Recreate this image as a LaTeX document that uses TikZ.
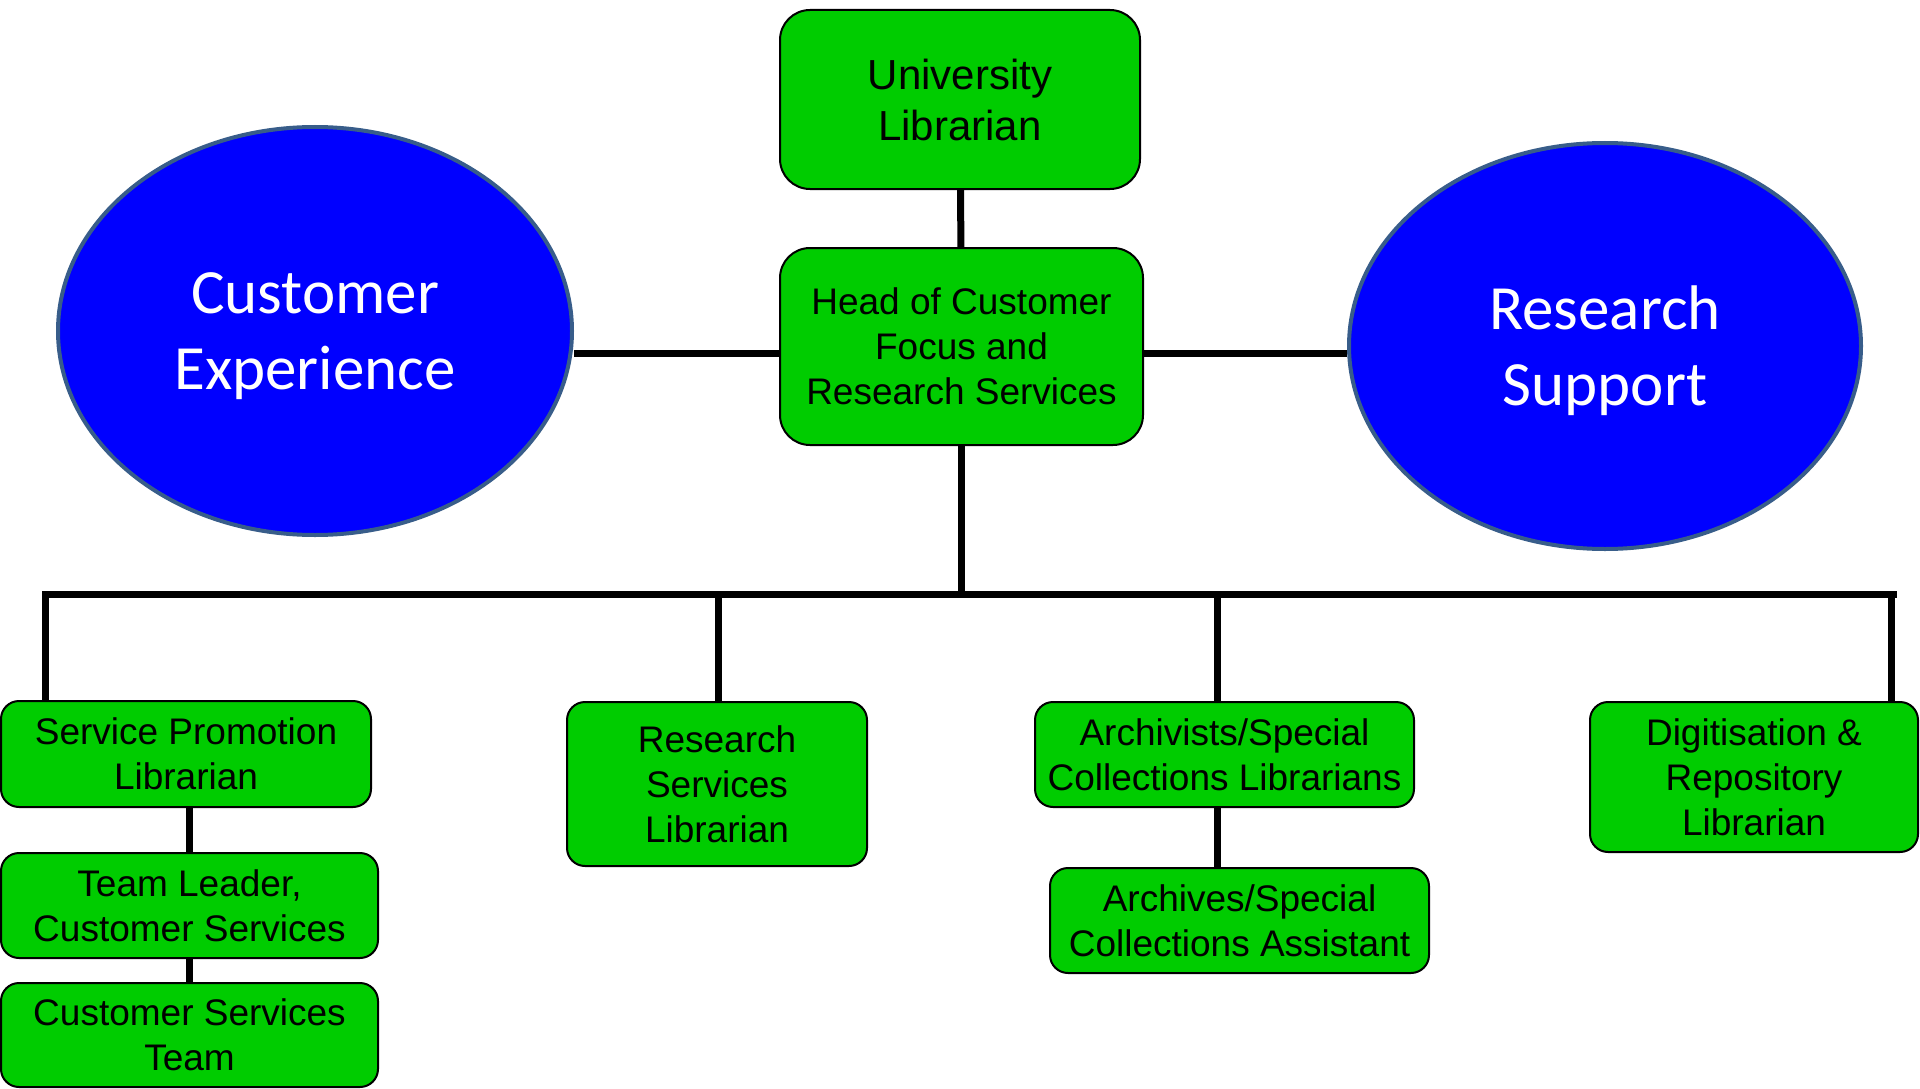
\documentclass[tikz,border=0pt]{standalone}
\usepackage{fontspec}
\setmainfont{Liberation Sans}
\newfontfamily\ovalfont{Carlito}
\usetikzlibrary{backgrounds,shapes.geometric}
\definecolor{boxgreen}{RGB}{0,204,0}
\definecolor{ovalblue}{RGB}{0,0,255}
\definecolor{ovalrim}{RGB}{56,93,138}
\begin{document}
\begin{tikzpicture}[x=1pt,y=-1pt,
    post/.style={draw=black,line width=2pt,fill=boxgreen,rounded corners=18pt,
      inner sep=0pt,align=center,font=\fontsize{37}{45}\selectfont},
    bigpost/.style={post,rounded corners=30pt},
    oval/.style={ellipse,draw=ovalrim,line width=4pt,fill=ovalblue,text=white,
      inner sep=0pt,text depth=0pt,align=center,font=\ovalfont\fontsize{63}{76}\selectfont},
    link/.style={line width=7pt,line join=miter}]
  \useasboundingbox (0,0) rectangle (1920,1089);
  \node[bigpost,minimum width=360pt,minimum height=179pt,font=\fontsize{42}{51}\selectfont] (univ) at (960,99.5) {University\\Librarian};
  \node[bigpost,minimum width=363pt,minimum height=197pt] (head) at (961.5,346.5) {Head of Customer\\Focus and\\Research Services};
  \node[oval,minimum width=514pt,minimum height=408pt] (custexp) at (315,331) {Customer\\Experience};
  \node[oval,minimum width=512pt,minimum height=406pt] (ressup) at (1605,346) {Research\\Support};
  \node[post,minimum width=370pt,minimum height=106pt] (promo) at (186,754) {Service Promotion\\Librarian};
  \node[post,minimum width=377pt,minimum height=105pt] (leader) at (189.5,905.5) {Team Leader,\\Customer Services};
  \node[post,minimum width=377pt,minimum height=104pt] (csteam) at (189.5,1035) {Customer Services\\Team};
  \node[post,minimum width=300pt,minimum height=164pt] (resserv) at (717,784) {Research\\Services\\Librarian};
  \node[post,minimum width=379pt,minimum height=105pt] (archiv) at (1224.5,754.5) {Archivists/Special\\Collections Librarians};
  \node[post,minimum width=379pt,minimum height=105pt] (assist) at (1239.5,920.5) {Archives/Special\\Collections Assistant};
  \node[post,minimum width=328pt,minimum height=150pt] (digit) at (1754,777) {Digitisation \&\\Repository\\Librarian};
  \coordinate (bus1) at (45,594);
  \coordinate (bus2) at (718,594);
  \coordinate (bus3) at (1217,594);
  \coordinate (bus4) at (1891,594);
  \begin{scope}[on background layer]
    \draw[link] (univ) -- (head);
    \draw[link] ([yshift=-7pt]head.west) -- ([yshift=-7pt]head.west -| custexp.east);
    \draw[link] ([yshift=-7pt]head.east) -- ([yshift=-7pt]head.east -| ressup.west);
    \draw[link] (head.south) -- (head.south |- bus1);
    \draw[link] (bus1 |- promo.north) -- (bus1) -- ([xshift=6pt]bus4);
    \draw[link] (bus4) -- (bus4 |- digit.north);
    \draw[link] (bus2) -- (bus2 |- resserv.north);
    \draw[link] (bus3) -- (bus3 |- archiv.north);
    \draw[link] (archiv.south -| bus3) -- (assist.north -| bus3);
    \draw[link] (leader.north |- promo.south) -- (leader.north);
    \draw[link] (leader.south) -- (csteam.north);
  \end{scope}
\end{tikzpicture}
\end{document}
